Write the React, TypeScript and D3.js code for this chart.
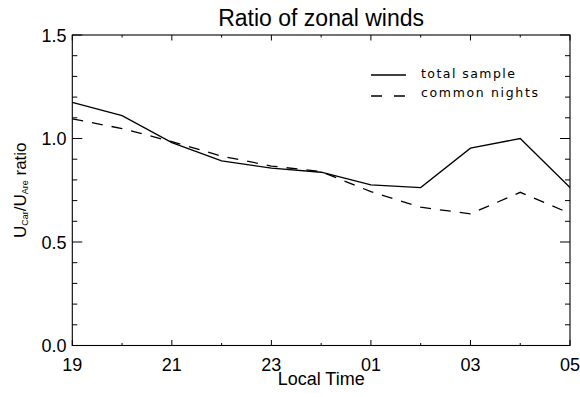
import React from "react";
import * as d3 from "d3";

const hours = [19, 20, 21, 22, 23, 24, 25, 26, 27, 28, 29];
const totalSample = [1.175, 1.11, 0.98, 0.892, 0.857, 0.837, 0.776, 0.763, 0.953, 1.0, 0.763];
const commonNights = [1.095, 1.048, 0.985, 0.915, 0.867, 0.84, 0.743, 0.668, 0.636, 0.74, 0.638];
const xTickLabels = ["19", "21", "23", "01", "03", "05"];
const yTickLabels = ["0.0", "0.5", "1.0", "1.5"];

const W = 580;
const H = 397;
const left = 72.3;
const right = 570;
const top = 35;
const bottom = 345.5;

export default function App() {
  const x = d3.scaleLinear().domain([19, 29]).range([left, right]);
  const y = d3.scaleLinear().domain([0, 1.5]).range([bottom, top]);
  const line = d3
    .line<number>()
    .x((_, i) => x(hours[i]))
    .y((d) => y(d));

  const minorY = d3.range(0, 16).map((i) => i / 10);
  const font = "'Liberation Sans', Arial, sans-serif";

  return (
    <svg
      width={W}
      height={H}
      style={{ position: "absolute", left: 0, top: 0, background: "#fff" }}
    >
      <rect x={0} y={0} width={W} height={H} fill="#fff" />
      <text x={(left + right) / 2} y={26} textAnchor="middle" fontFamily={font} fontSize={23} fill="#000">
        Ratio of zonal winds
      </text>

      {/* frame */}
      <rect x={left} y={top} width={right - left} height={bottom - top} fill="none" stroke="#000" strokeWidth={1.1} />

      {/* x ticks bottom & top */}
      {hours.map((h, i) => {
        const major = i % 2 === 0;
        const len = major ? 5.5 : 2.5;
        return (
          <g key={"xt" + h}>
            <line x1={x(h)} x2={x(h)} y1={bottom} y2={bottom - len} stroke="#000" strokeWidth={1} />
            <line x1={x(h)} x2={x(h)} y1={top} y2={top + len} stroke="#000" strokeWidth={1} />
          </g>
        );
      })}
      {xTickLabels.map((t, i) => (
        <text key={"xl" + t} x={x(19 + i * 2)} y={370.5} textAnchor="middle" fontFamily={font} fontSize={18} fill="#000">
          {t}
        </text>
      ))}

      {/* y ticks left & right */}
      {minorY.map((v, i) => {
        const major = i % 5 === 0;
        const len = major ? 10 : 5;
        return (
          <g key={"yt" + i}>
            <line x1={left} x2={left + len} y1={y(v)} y2={y(v)} stroke="#000" strokeWidth={1} />
            <line x1={right} x2={right - len} y1={y(v)} y2={y(v)} stroke="#000" strokeWidth={1} />
          </g>
        );
      })}
      {yTickLabels.map((t, i) => (
        <text key={"yl" + t} x={66.5} y={y(i * 0.5) + 6.5} textAnchor="end" fontFamily={font} fontSize={18} fill="#000">
          {t}
        </text>
      ))}

      <text x={(left + right) / 2} y={385} textAnchor="middle" fontFamily={font} fontSize={18} fill="#000">
        Local Time
      </text>

      <text
        transform={`translate(25.5, ${(top + bottom) / 2}) rotate(-90)`}
        textAnchor="middle"
        fontFamily={font}
        fontSize={17}
        fill="#000"
      >
        U<tspan fontSize={9} dy={2}>Car</tspan>
        <tspan dy={-2}>/U</tspan>
        <tspan fontSize={9} dy={2}>Are</tspan>
        <tspan dy={-2}> ratio</tspan>
      </text>

      <path d={line(totalSample) || ""} fill="none" stroke="#000" strokeWidth={1.3} />
      <path d={line(commonNights) || ""} fill="none" stroke="#000" strokeWidth={1.3} strokeDasharray="11,9" />

      {/* legend */}
      <line x1={371} x2={406} y1={75} y2={75} stroke="#000" strokeWidth={1.3} />
      <line x1={371} x2={406} y1={96} y2={96} stroke="#000" strokeWidth={1.3} strokeDasharray="11,12" />
      <text x={421} y={78} fontFamily="'DejaVu Sans', sans-serif" fontSize={12.5} textLength={94} lengthAdjust="spacing" fill="#000">
        total sample
      </text>
      <text x={421} y={97} fontFamily="'DejaVu Sans', sans-serif" fontSize={12.5} textLength={117} lengthAdjust="spacing" fill="#000">
        common nights
      </text>
    </svg>
  );
}
